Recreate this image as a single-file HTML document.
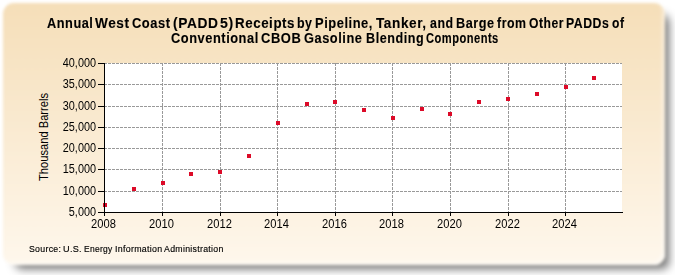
<!DOCTYPE html>
<html><head><meta charset="utf-8">
<style>
html,body{margin:0;padding:0;background:#fff;width:675px;height:275px;overflow:hidden;}
body{position:relative;font-family:"Liberation Sans",sans-serif;}
#box{position:absolute;left:2.5px;top:2.5px;width:662px;height:262px;border-radius:11px;
 background:linear-gradient(to bottom,#f5deb8 0%,#fef7ec 100%);
 box-shadow:8px 8px 8px -4px rgba(0,0,0,0.55), inset -3px -3px 3px rgba(255,255,255,0.45);filter:blur(1.5px);}
.w{position:absolute;white-space:nowrap;font-weight:bold;font-size:14px;line-height:20px;color:#000;transform-origin:0 0;letter-spacing:0.6px;-webkit-text-stroke:0.12px #000;}
.s{position:absolute;white-space:nowrap;font-size:9px;line-height:20px;color:#000;transform-origin:0 0;-webkit-text-stroke:0.15px #000;letter-spacing:0.3px;}
.yl{position:absolute;left:35.8px;width:60px;text-align:right;font-size:12px;line-height:20px;color:#000;transform-origin:100% 50%;transform:scaleX(0.905);-webkit-text-stroke:0px #000;}
.xl{position:absolute;top:214px;width:61px;text-align:center;font-size:12px;line-height:20px;color:#000;transform-origin:50% 50%;transform:scaleX(0.928);-webkit-text-stroke:0px #000;}
#ylab{position:absolute;left:44px;top:136.8px;transform:translate(-50%,-50%) rotate(-90deg) scaleX(0.93);font-size:12px;line-height:14px;white-space:nowrap;color:#000;-webkit-text-stroke:0px #000;}
svg{position:absolute;left:0;top:0;}
</style></head><body>
<div id="box"></div>
<svg width="675" height="275" viewBox="0 0 675 275">
<rect x="105" y="63" width="517" height="149" fill="#fff"/>
<g stroke="#999" stroke-width="1" stroke-dasharray="3,1" shape-rendering="crispEdges"><line x1="104" y1="63.5" x2="622" y2="63.5"/><line x1="104" y1="84.5" x2="622" y2="84.5"/><line x1="104" y1="106.5" x2="622" y2="106.5"/><line x1="104" y1="127.5" x2="622" y2="127.5"/><line x1="104" y1="148.5" x2="622" y2="148.5"/><line x1="104" y1="169.5" x2="622" y2="169.5"/><line x1="104" y1="191.5" x2="622" y2="191.5"/><line x1="162.5" y1="63" x2="162.5" y2="212"/><line x1="220.5" y1="63" x2="220.5" y2="212"/><line x1="277.5" y1="63" x2="277.5" y2="212"/><line x1="335.5" y1="63" x2="335.5" y2="212"/><line x1="392.5" y1="63" x2="392.5" y2="212"/><line x1="450.5" y1="63" x2="450.5" y2="212"/><line x1="508.5" y1="63" x2="508.5" y2="212"/><line x1="565.5" y1="63" x2="565.5" y2="212"/></g>
<g fill="#dc0a28" shape-rendering="crispEdges"><rect x="103" y="203" width="4" height="4"/><rect x="132" y="187" width="4" height="4"/><rect x="161" y="181" width="4" height="4"/><rect x="189" y="172" width="4" height="4"/><rect x="218" y="170" width="4" height="4"/><rect x="247" y="154" width="4" height="4"/><rect x="276" y="121" width="4" height="4"/><rect x="305" y="102" width="4" height="4"/><rect x="333" y="100" width="4" height="4"/><rect x="362" y="108" width="4" height="4"/><rect x="391" y="116" width="4" height="4"/><rect x="420" y="107" width="4" height="4"/><rect x="448" y="112" width="4" height="4"/><rect x="477" y="100" width="4" height="4"/><rect x="506" y="97" width="4" height="4"/><rect x="535" y="92" width="4" height="4"/><rect x="564" y="85" width="4" height="4"/><rect x="592" y="76" width="4" height="4"/></g>
<g fill="#000" shape-rendering="crispEdges"><rect x="104" y="63" width="1" height="153"/><rect x="98" y="212" width="525" height="1"/><rect x="98" y="63" width="6" height="1"/><rect x="98" y="84" width="6" height="1"/><rect x="98" y="106" width="6" height="1"/><rect x="98" y="127" width="6" height="1"/><rect x="98" y="148" width="6" height="1"/><rect x="98" y="169" width="6" height="1"/><rect x="98" y="191" width="6" height="1"/><rect x="162" y="213" width="1" height="3"/><rect x="220" y="213" width="1" height="3"/><rect x="277" y="213" width="1" height="3"/><rect x="335" y="213" width="1" height="3"/><rect x="392" y="213" width="1" height="3"/><rect x="450" y="213" width="1" height="3"/><rect x="508" y="213" width="1" height="3"/><rect x="565" y="213" width="1" height="3"/></g>
</svg>
<span class="w" style="left:46.94px;top:13px;transform:scaleX(0.9102)">Annual</span>
<span class="w" style="left:94.50px;top:13px;transform:scaleX(0.9713)">West</span>
<span class="w" style="left:131.95px;top:13px;transform:scaleX(0.9210)">Coast</span>
<span class="w" style="left:172.91px;top:13px;transform:scaleX(0.9820)">(PADD</span>
<span class="w" style="left:219.80px;top:13px;transform:scaleX(1.0085)">5)</span>
<span class="w" style="left:235.14px;top:13px;transform:scaleX(0.9509)">Receipts</span>
<span class="w" style="left:296.90px;top:13px;transform:scaleX(0.8868)">by</span>
<span class="w" style="left:315.27px;top:13px;transform:scaleX(0.9207)">Pipeline,</span>
<span class="w" style="left:376.31px;top:13px;transform:scaleX(0.9703)">Tanker,</span>
<span class="w" style="left:429.85px;top:13px;transform:scaleX(0.8831)">and</span>
<span class="w" style="left:456.49px;top:13px;transform:scaleX(0.9042)">Barge</span>
<span class="w" style="left:497.32px;top:13px;transform:scaleX(0.8805)">from</span>
<span class="w" style="left:529.08px;top:13px;transform:scaleX(0.8663)">Other</span>
<span class="w" style="left:566.31px;top:13px;transform:scaleX(0.8774)">PADDs</span>
<span class="w" style="left:611.68px;top:13px;transform:scaleX(0.8636)">of</span>
<span class="w" style="left:171.15px;top:28px;transform:scaleX(0.9157)">Conventional</span>
<span class="w" style="left:260.55px;top:28px;transform:scaleX(0.9234)">CBOB</span>
<span class="w" style="left:304.35px;top:28px;transform:scaleX(0.9149)">Gasoline</span>
<span class="w" style="left:365.89px;top:28px;transform:scaleX(0.8987)">Blending</span>
<span class="w" style="left:426.02px;top:28px;transform:scaleX(0.7951)">Components</span>
<span class="s" style="left:28.71px;top:239.4px;transform:scaleX(0.9715)">Source:</span>
<span class="s" style="left:63.19px;top:239.4px;transform:scaleX(1.0118)">U.S.</span>
<span class="s" style="left:83.94px;top:239.4px;transform:scaleX(0.9454)">Energy</span>
<span class="s" style="left:115.11px;top:239.4px;transform:scaleX(0.9828)">Information</span>
<span class="s" style="left:164.20px;top:239.4px;transform:scaleX(0.9734)">Administration</span>
<div class="yl" style="top:53px">40,000</div>
<div class="yl" style="top:74px">35,000</div>
<div class="yl" style="top:96px">30,000</div>
<div class="yl" style="top:117px">25,000</div>
<div class="yl" style="top:138px">20,000</div>
<div class="yl" style="top:159px">15,000</div>
<div class="yl" style="top:181px">10,000</div>
<div class="yl" style="top:202px">5,000</div>
<div class="xl" style="left:73.3px">2008</div>
<div class="xl" style="left:131.3px">2010</div>
<div class="xl" style="left:189.3px">2012</div>
<div class="xl" style="left:246.3px">2014</div>
<div class="xl" style="left:304.3px">2016</div>
<div class="xl" style="left:361.3px">2018</div>
<div class="xl" style="left:419.3px">2020</div>
<div class="xl" style="left:477.3px">2022</div>
<div class="xl" style="left:534.3px">2024</div>
<div id="ylab">Thousand Barrels</div>
</body></html>
